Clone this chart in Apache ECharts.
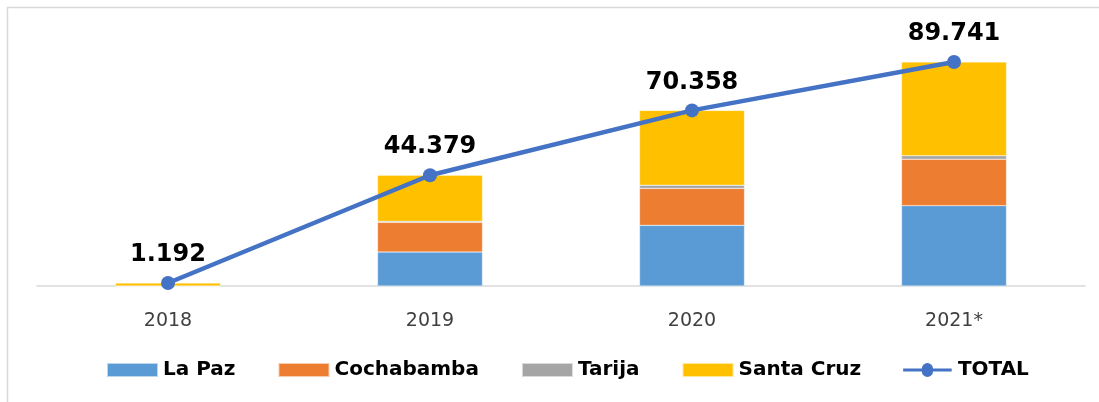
<!DOCTYPE html>
<html>
<head>
<meta charset="utf-8">
<script src="https://cdn.jsdelivr.net/npm/echarts@6/dist/echarts.min.js"></script>
<style>
  html, body { margin: 0; padding: 0; background: #fff; }
  #chart { width: 1099px; height: 402px; }
</style>
</head>
<body>
<div id="chart"></div>
<script>
  // datos (miles)
  var years = ['2018', '2019', '2020', '2021*'];
  var laPaz = [0, 13.6, 24.3, 32.2];
  var cochabamba = [0, 11.9, 14.8, 18.6];
  var tarija = [0, 0.4, 1.3, 1.4];
  var santaCruz = [1.192, 18.479, 29.958, 37.541];
  var total = [1.192, 44.379, 70.358, 89.741];

  var chart = echarts.init(document.getElementById('chart'));

  function barSerie(name, data, color) {
    return {
      name: name,
      type: 'bar',
      stack: 'dep',
      barWidth: 105,
      data: data,
      itemStyle: { color: color, borderColor: 'rgba(255,255,255,0.6)', borderWidth: 0.5 },
      emphasis: { disabled: true }
    };
  }

  var option = {
    animation: false,
    // marco del gráfico (solo arriba e izquierda visibles)
    graphic: [{
      type: 'polyline',
      shape: { points: [[7.5, 420], [7.5, 7.5], [1110, 7.5]] },
      style: { fill: 'none', stroke: '#d9d9d9', lineWidth: 1.5 },
      silent: true
    }],
    grid: { left: 37, right: 14, top: 36.4, bottom: 116 },
    legend: {
      bottom: 17,
      left: 101,
      icon: 'rect',
      itemWidth: 51,
      itemHeight: 14,
      itemGap: 42,
      textStyle: { fontFamily: 'DejaVu Sans', fontWeight: 'bold', fontSize: 20, color: '#000' },
      data: [
        { name: 'La Paz' },
        { name: 'Cochabamba' },
        { name: 'Tarija' },
        { name: 'Santa Cruz' },
        { name: 'TOTAL', icon: 'path://M0,6 L20,6 A6,6 0 1,1 32,6 L52,6 L52,9 L32,9 A6,6 0 1,1 20,9 L0,9 Z' }
      ]
    },
    xAxis: {
      type: 'category',
      data: years,
      axisLine: { lineStyle: { color: '#d9d9d9', width: 1.5 } },
      axisTick: { show: false },
      axisLabel: { fontFamily: 'DejaVu Sans', fontSize: 19, color: '#404040', margin: 26 }
    },
    yAxis: {
      type: 'value',
      min: 0,
      max: 100,
      show: false,
      splitLine: { show: false }
    },
    series: [
      barSerie('La Paz', laPaz, '#5b9bd5'),
      barSerie('Cochabamba', cochabamba, '#ed7d31'),
      barSerie('Tarija', tarija, '#a5a5a5'),
      barSerie('Santa Cruz', santaCruz, '#ffc000'),
      {
        name: 'TOTAL',
        type: 'line',
        data: total,
        symbol: 'circle',
        symbolSize: 14,
        lineStyle: { color: '#4472c4', width: 4.5 },
        itemStyle: { color: '#4472c4' },
        label: {
          show: true,
          position: 'top',
          distance: 9,
          fontFamily: 'DejaVu Sans',
          fontWeight: 'bold',
          fontSize: 24,
          color: '#000',
          formatter: function (p) { return p.value.toFixed(3); }
        },
        z: 5
      }
    ]
  };
  chart.setOption(option);
</script>
</body>
</html>
